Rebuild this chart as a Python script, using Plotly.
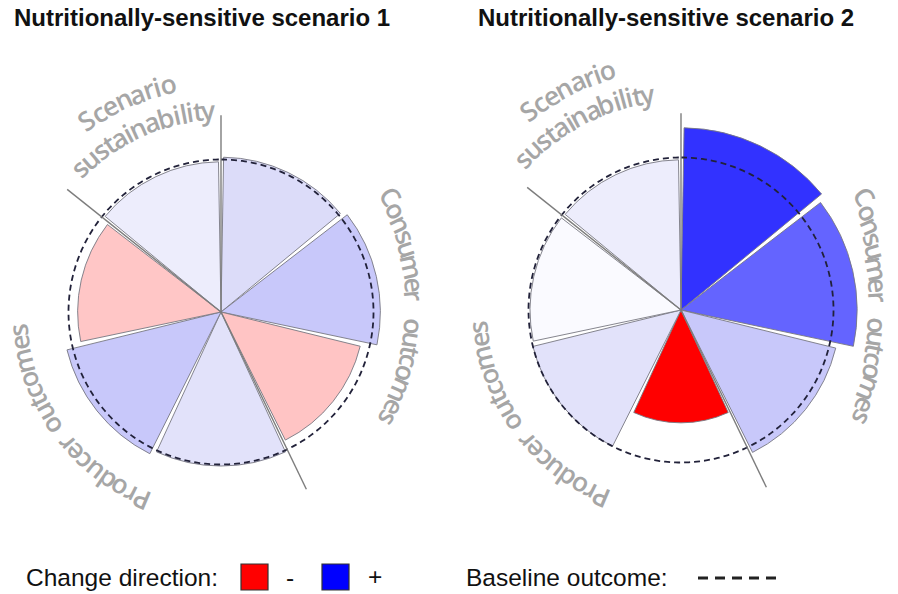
import numpy as np
import plotly.graph_objects as go

W, H = 898, 594

# ---------------- data ----------------
outcomes = ["Consumer outcome 1", "Consumer outcome 2", "Consumer outcome 3",
            "Producer outcome 1", "Producer outcome 2", "Producer outcome 3",
            "Scenario sustainability"]
group_names = ["Consumer  outcomes", "Producer outcomes", "Scenario", "sustainability"]
group_start_index = [0, 3, 6]          # first outcome of each group
scenario1_values = [1.015, 1.045, 0.94, 1.01, 1.04, 0.94, 0.985]
scenario2_values = [1.195, 1.155, 1.045, 0.74, 1.0, 0.99, 0.985]
baseline_value = 1.0
divider_length = 1.29
titles = ["Nutritionally-sensitive scenario 1", "Nutritionally-sensitive scenario 2"]

# ---------------- style ----------------
scenario1_colors = ["#dcdcf9", "#c8c8fa", "#ffc4c4", "#e2e2fa", "#c8c8fa", "#ffc6c6", "#ededfc"]
scenario2_colors = ["#3232ff", "#6464ff", "#c8c8fa", "#ff0000", "#e2e2fa", "#fafaff", "#ededfc"]

n = len(outcomes)
step = 360.0 / n
theta_centers = [step * (i + 0.5) for i in range(n)]
divider_angles = [step * i for i in group_start_index]

base_px = 152.5            # pixel radius of the baseline (r = 1)
polar_px = 205             # pixel radius of the polar area
rmax = polar_px / base_px

# label placement: (text, radius at start, middle, end (px), start angle, end angle)
charts = [
    dict(cx=221, cy=312, values=scenario1_values, colors=scenario1_colors, title=titles[0], tx=12,
         labels=[(group_names[0], 205, 194, 199, 55.6, 122.4),
                 (group_names[1], 204, 204, 204, 203.0, 265.0),
                 (group_names[2], 234, 234, 234, 325.0, 346.8),
                 (group_names[3], 202, 202, 202, 315.4, 356.4)]),
    dict(cx=681, cy=310, values=scenario2_values, colors=scenario2_colors, title=titles[1], tx=476,
         labels=[(group_names[0], 216, 197, 211, 58.4, 120.8),
                 (group_names[1], 204, 204, 204, 203.1, 265.2),
                 (group_names[2], 251, 251, 251, 322.5, 342.9),
                 (group_names[3], 219, 219, 219, 313.6, 351.1)]),
]

def px(x):
    return x / W

def py(y):
    return 1 - y / H

char_w = {"C": .63, "S": .55, "P": .6, "o": .6, "n": .61, "s": .48, "u": .61, "m": .93,
          "e": .56, "r": .41, " ": .42, "t": .35, "c": .5, "i": .26, "l": .26, "a": .56,
          "b": .61, "y": .5, "d": .61, "v": .5}

fig = go.Figure()
annotations = []
layout_polars = {}

for k, ch in enumerate(charts):
    pname = "polar" if k == 0 else "polar%d" % (k + 1)
    sub = pname
    fig.add_trace(go.Barpolar(
        r=ch["values"], theta=theta_centers, width=[49.5] * n,
        marker=dict(color=ch["colors"], line=dict(color="rgba(120,120,130,0.9)", width=1)),
        text=outcomes, hoverinfo="text+r", subplot=sub, showlegend=False))
    circ_theta = np.linspace(0, 360, 361)
    fig.add_trace(go.Scatterpolar(
        r=[baseline_value] * len(circ_theta), theta=circ_theta, mode="lines",
        line=dict(color="#22223a", width=1.8, dash="6px,4px"),
        hoverinfo="skip", subplot=sub, showlegend=False))
    for a in divider_angles:
        fig.add_trace(go.Scatterpolar(
            r=[0, divider_length], theta=[a, a], mode="lines",
            line=dict(color="#7d7d7d", width=1.4),
            hoverinfo="skip", subplot=sub, showlegend=False))

    cx, cy = ch["cx"], ch["cy"]
    layout_polars[pname] = dict(
        domain=dict(x=[px(cx - polar_px), px(cx + polar_px)],
                    y=[py(cy + polar_px), py(cy - polar_px)]),
        bgcolor="rgba(0,0,0,0)",
        radialaxis=dict(visible=False, range=[0, rmax]),
        angularaxis=dict(rotation=90, direction="clockwise", showline=False, showgrid=False,
                         showticklabels=False, ticks=""),
    )

    # curved group labels, one character per annotation
    for text, r0, rm, r1, a0, a1 in ch["labels"]:
        widths = [char_w.get(c, .55) for c in text]
        centers = []
        acc = 0
        for w_ in widths:
            centers.append(acc + w_ / 2)
            acc += w_
        c0, c1 = centers[0], centers[-1]
        for c, cc in zip(text, centers):
            if c == " ":
                continue
            t = (cc - c0) / (c1 - c0)
            rad = r0 * (2 * t - 1) * (t - 1) + rm * 4 * t * (1 - t) + r1 * t * (2 * t - 1)
            phi = a0 + (a1 - a0) * t
            pr = np.radians(phi)
            x = cx + rad * np.sin(pr)
            y = cy - rad * np.cos(pr)
            ang = ((phi + 180) % 360) - 180
            annotations.append(dict(
                x=px(x), y=py(y), xref="paper", yref="paper", text=c, showarrow=False,
                xanchor="center", yanchor="middle", textangle=ang,
                font=dict(family="Open Sans", size=26.5, color="#a6a6a6", weight=600)))

    annotations.append(dict(
        x=px(ch["tx"]), y=py(18), xref="paper", yref="paper", text="<b>%s</b>" % ch["title"],
        showarrow=False, xanchor="left", yanchor="middle",
        font=dict(family="Liberation Sans, Arial", size=24, color="#111111")))

# ---------------- legend ----------------
leg_y = 577
legend_font = dict(family="Liberation Sans, Arial", size=24.5, color="#111111")
annotations += [
    dict(x=px(24), y=py(leg_y), xref="paper", yref="paper", text="Change direction:",
         showarrow=False, xanchor="left", yanchor="middle", font=legend_font),
    dict(x=px(290), y=py(leg_y), xref="paper", yref="paper", text="-",
         showarrow=False, xanchor="center", yanchor="middle", font=legend_font),
    dict(x=px(375), y=py(leg_y - 1), xref="paper", yref="paper", text="+",
         showarrow=False, xanchor="center", yanchor="middle", font=legend_font),
    dict(x=px(464), y=py(leg_y), xref="paper", yref="paper", text="Baseline outcome:",
         showarrow=False, xanchor="left", yanchor="middle", font=legend_font),
]
shapes = [
    dict(type="rect", xref="paper", yref="paper", x0=px(241), x1=px(268), y0=py(590), y1=py(564),
         fillcolor="#ff0000", line=dict(color="#333333", width=1.2)),
    dict(type="rect", xref="paper", yref="paper", x0=px(322), x1=px(349), y0=py(590), y1=py(564),
         fillcolor="#0000ff", line=dict(color="#333333", width=1.2)),
    dict(type="line", xref="paper", yref="paper", x0=px(698), x1=px(778), y0=py(leg_y + 1), y1=py(leg_y + 1),
         line=dict(color="#222222", width=3, dash="10px,7px")),
]

fig.update_layout(
    width=W, height=H, autosize=False,
    margin=dict(l=0, r=0, t=0, b=0),
    paper_bgcolor="white", plot_bgcolor="white",
    showlegend=False,
    annotations=annotations, shapes=shapes,
    **layout_polars,
)

fig.write_html("out.html", config={"displayModeBar": False},
               post_script="document.body.style.margin='0';document.body.style.overflow='hidden';")
